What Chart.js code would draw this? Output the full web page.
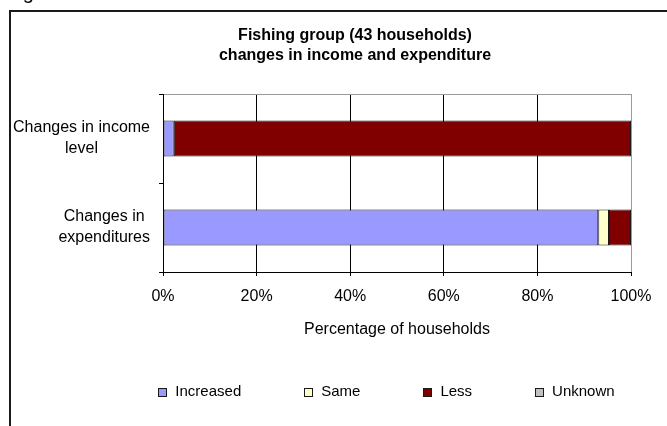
<!DOCTYPE html>
<html>
<head>
<meta charset="utf-8">
<script src="https://cdn.jsdelivr.net/npm/chart.js@4/dist/chart.umd.min.js"></script>
<style>
  html, body { margin: 0; padding: 0; background: #fff; overflow: hidden; }
  canvas { display: block; }
</style>
</head>
<body>
<canvas id="c" width="667" height="426"></canvas>
<script>
// Chart content
const CAPTION = 'Figure';
const TITLE_LINES = ['Fishing group (43 households)', 'changes in income and expenditure'];
const CATEGORIES = [['Changes in income', 'level'], ['Changes in', 'expenditures']];
const SERIES_NAMES = ['Increased', 'Same', 'Less', 'Unknown'];
const INCREASED = [2.3, 93.0];
const SAME = [0, 2.3];
const LESS = [97.7, 4.7];
const UNKNOWN = [0, 0];
const X_TICK_VALUES = [0, 20, 40, 60, 80, 100];
const X_TICK_LABELS = ['0%', '20%', '40%', '60%', '80%', '100%'];
const X_TITLE = 'Percentage of households';

const FONT = "'Liberation Sans', Arial, Helvetica, sans-serif";
const COLORS = ['#9999FF', '#FFFFCC', '#800000', '#C0C0C0'];
const SERIES = [INCREASED, SAME, LESS, UNKNOWN];

Chart.defaults.font.family = FONT;
Chart.defaults.font.size = 16;
Chart.defaults.color = '#000';

// Outer frame and the caption line above it (mostly out of view)
const framePlugin = {
  id: 'frame',
  beforeDraw(chart) {
    const { ctx, width, height } = chart;
    ctx.save();
    ctx.fillStyle = '#fff';
    ctx.fillRect(0, 0, width, height);
    ctx.fillStyle = '#1a1a1a';
    ctx.fillRect(9, 10, 2, height - 10);
    ctx.fillRect(9, 10, width - 9, 2);
    ctx.fillStyle = '#000';
    ctx.font = `20px ${FONT}`;
    ctx.textBaseline = 'alphabetic';
    ctx.textAlign = 'left';
    ctx.fillText(CAPTION, 6, -0.6);
    ctx.restore();
  }
};

// Two-line bold heading
const headingPlugin = {
  id: 'heading',
  afterDraw(chart, args, o) {
    const { ctx } = chart;
    ctx.save();
    ctx.font = `bold 16px ${FONT}`;
    ctx.fillStyle = '#000';
    ctx.textAlign = 'center';
    ctx.textBaseline = 'alphabetic';
    TITLE_LINES.forEach((t, k) => ctx.fillText(t, o.x, o.y + k * o.gap));
    ctx.restore();
  }
};

// Category labels: each block right-aligned, its lines centred within the block
const categoryLabelPlugin = {
  id: 'categoryLabels',
  afterDraw(chart, args, o) {
    const { ctx } = chart;
    const yScale = chart.scales.y;
    ctx.save();
    ctx.font = `16px ${FONT}`;
    ctx.fillStyle = '#000';
    ctx.textAlign = 'center';
    ctx.textBaseline = 'alphabetic';
    chart.data.labels.forEach((lab, i) => {
      const lines = Array.isArray(lab) ? lab : [lab];
      const w = Math.max(...lines.map(t => ctx.measureText(t).width));
      const cx = yScale.left + yScale.width - o.gapFromAxis - w / 2;
      const yc = yScale.getPixelForValue(i);
      lines.forEach((t, k) => {
        ctx.fillText(t, cx, yc + (k - (lines.length - 1) / 2) * o.lineGap + o.baselineShift);
      });
    });
    ctx.restore();
  }
};

// Legend row along the bottom
const keyPlugin = {
  id: 'key',
  afterDraw(chart, args, o) {
    const { ctx } = chart;
    const items = chart.data.datasets;
    ctx.save();
    ctx.font = `15px ${FONT}`;
    const widths = items.map(ds => o.box + o.gap + ctx.measureText(ds.label).width);
    const total = widths.reduce((a, b) => a + b, 0) + o.spacing * (items.length - 1);
    let x = o.centerX - total / 2;
    ctx.textAlign = 'left';
    ctx.textBaseline = 'middle';
    items.forEach((ds, i) => {
      const top = Math.round(o.y - o.box / 2);
      const left = Math.round(x);
      ctx.fillStyle = ds.backgroundColor;
      ctx.fillRect(left, top, o.box, o.box);
      ctx.strokeStyle = '#1a1a1a';
      ctx.lineWidth = 1;
      ctx.strokeRect(left + 0.5, top + 0.5, o.box - 1, o.box - 1);
      ctx.fillStyle = '#000';
      ctx.fillText(ds.label, x + o.box + o.gap, o.y);
      x += widths[i] + o.spacing;
    });
    ctx.restore();
  }
};

new Chart(document.getElementById('c'), {
  type: 'bar',
  data: {
    labels: CATEGORIES,
    datasets: SERIES_NAMES.map((name, i) => ({
      label: name,
      data: SERIES[i],
      backgroundColor: COLORS[i],
      borderColor: '#1a1a1a',
      borderWidth: 1,
      borderSkipped: false,
      barPercentage: 0.405,
      categoryPercentage: 1
    }))
  },
  options: {
    indexAxis: 'y',
    responsive: false,
    animation: false,
    events: [],
    layout: { padding: { left: 0, right: 36, top: 94, bottom: 84 } },
    plugins: {
      legend: { display: false },
      title: { display: false },
      tooltip: { enabled: false },
      heading: { x: 355, y: 39.5, gap: 20 },
      categoryLabels: { gapFromAxis: 13, lineGap: 21, baselineShift: 4 },
      key: { centerX: 386.5, y: 392, box: 9, gap: 8, spacing: 63 }
    },
    scales: {
      x: {
        stacked: true,
        min: 0,
        max: 100,
        afterBuildTicks: s => { s.ticks = X_TICK_VALUES.map(v => ({ value: v })); },
        ticks: {
          callback: (v) => X_TICK_LABELS[X_TICK_VALUES.indexOf(v)],
          padding: 11,
          maxRotation: 0,
          autoSkip: false,
          font: { size: 16 }
        },
        grid: {
          color: c => (c.tick && c.tick.value === 100) ? '#9a9a9a' : '#000',
          tickColor: '#000',
          tickLength: 4,
          lineWidth: 1
        },
        border: { color: '#000', width: 1 },
        title: { display: true, text: X_TITLE, padding: { top: 0, bottom: 2.4 }, font: { size: 16 } },
        afterFit: s => { s.height = 70; }
      },
      y: {
        stacked: true,
        ticks: { display: false },
        grid: {
          offset: true,
          color: c => c.index === 0 ? '#9a9a9a' : 'rgba(0,0,0,0)',
          tickColor: '#000',
          tickLength: 4,
          lineWidth: 1
        },
        border: { color: '#000', width: 1 },
        afterFit: s => { s.width = 163; }
      }
    }
  },
  plugins: [framePlugin, headingPlugin, categoryLabelPlugin, keyPlugin]
});
</script>
</body>
</html>
